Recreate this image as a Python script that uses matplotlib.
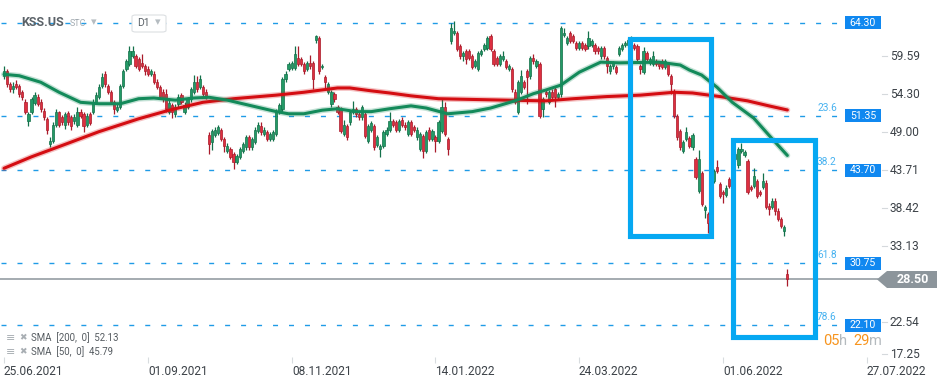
import matplotlib
matplotlib.use('Agg')
import matplotlib.pyplot as plt
import numpy as np
from matplotlib.patches import Rectangle, Polygon, FancyBboxPatch

plt.rcParams['font.family'] = ['Roboto', 'DejaVu Sans']
plt.rcParams['lines.scale_dashes'] = False

# ---------------- data ----------------
opens = [56.8, 57.5, 55.7, 55.0, 55.8, 55.5, 54.6, 53.3, 50.6, 51.9,
         53.1, 54.0, 53.3, 52.0, 50.9, 47.4, 47.8, 50.1, 51.8, 51.1,
         50.1, 51.7, 51.1, 50.6, 50.1, 51.9, 51.5, 50.1, 51.5, 51.9,
         53.2, 54.0, 55.5, 57.1, 55.5, 54.6, 53.2, 52.1, 52.5, 55.5,
         57.8, 58.6, 59.7, 59.7, 59.2, 58.7, 58.3, 57.9, 57.2, 57.2,
         56.1, 55.3, 54.7, 54.3, 51.9, 52.8, 51.5, 52.9, 54.2, 51.9,
         52.6, 53.6, 54.7, 56.0, 55.3, 55.3, 54.7, 48.6, 47.7, 48.6,
         48.9, 49.3, 48.1, 46.4, 46.7, 46.0, 44.9, 45.6, 46.4, 46.9,
         48.3, 46.9, 47.7, 49.2, 49.9, 48.8, 49.0, 48.1, 48.1, 48.8,
         51.9, 52.2, 56.4, 57.8, 58.0, 58.0, 59.4, 59.2, 58.5, 57.8,
         58.7, 58.7, 61.9, 62.1, 58.1, 56.7, 54.7, 52.9, 54.3, 52.5,
         52.2, 48.8, 49.9, 50.4, 51.8, 52.2, 51.5, 51.1, 51.5, 47.8,
         49.4, 49.9, 47.2, 46.7, 47.1, 48.8, 49.4, 50.6, 50.4, 49.4,
         50.8, 50.1, 48.8, 50.4, 49.7, 48.3, 46.7, 48.5, 46.4, 49.4,
         48.1, 48.3, 47.8, 49.2, 52.6, 48.1, 61.7, 62.9, 62.9, 61.0,
         59.6, 60.3, 60.3, 59.6, 58.3, 57.8, 59.9, 60.6, 60.8, 62.4,
         60.4, 59.4, 58.5, 59.2, 58.9, 57.8, 57.8, 54.7, 51.9, 54.6,
         56.0, 57.5, 56.8, 59.4, 58.3, 58.5, 52.2, 54.7, 53.2, 54.7,
         55.0, 53.9, 54.3, 62.6, 61.5, 62.9, 62.4, 61.5, 60.8, 61.5,
         61.2, 61.0, 61.2, 61.2, 60.8, 59.6, 60.8, 59.4, 57.5, 58.2,
         58.1, 59.9, 60.6, 61.2, 61.2, 61.7, 61.2, 61.0, 58.2, 57.4,
         60.1, 58.7, 58.6, 58.9, 58.7, 58.9, 58.1, 58.5, 56.8, 54.7,
         51.3, 49.2, 46.4, 48.1, 48.2, 46.9, 45.3, 40.8, 43.3, 38.2,
         37.6, 41.0, 42.2, 44.2, 41.8, 40.7, 40.3, 42.5, 43.5, 45.3,
         44.4, 46.4, 45.9, 45.0, 41.4, 41.5, 42.2, 40.7, 41.4, 42.0,
         38.8, 38.6, 39.5, 38.1, 36.9, 35.3, 29.3]
closes = [57.5, 55.7, 55.0, 55.5, 55.3, 54.4, 53.9, 51.8, 51.5, 53.6,
          54.2, 53.0, 52.2, 51.1, 49.3, 47.8, 50.1, 51.8, 50.1, 50.4,
          51.5, 50.4, 49.9, 51.1, 51.8, 51.3, 49.9, 51.3, 50.3, 53.3,
          54.2, 55.3, 56.7, 55.7, 54.6, 53.3, 52.2, 52.6, 55.5, 57.5,
          58.9, 60.3, 60.4, 58.3, 57.8, 58.3, 57.6, 57.2, 57.6, 56.1,
          55.3, 53.9, 53.6, 52.2, 53.1, 51.8, 52.5, 54.0, 53.2, 52.8,
          53.6, 55.0, 56.0, 55.0, 56.4, 54.3, 54.0, 47.4, 49.2, 49.4,
          49.7, 48.1, 47.1, 47.1, 45.6, 44.9, 45.7, 46.7, 47.4, 48.3,
          46.9, 48.1, 49.4, 50.0, 49.0, 49.4, 48.1, 48.8, 49.0, 51.9,
          52.8, 56.4, 57.1, 58.5, 58.7, 59.9, 58.5, 58.5, 57.5, 58.7,
          58.2, 56.4, 62.4, 57.5, 58.3, 56.1, 55.7, 54.6, 53.6, 51.8,
          49.2, 50.1, 48.3, 51.8, 52.2, 51.5, 51.1, 52.5, 48.5, 49.9,
          50.3, 46.9, 48.3, 47.1, 49.0, 49.4, 50.6, 50.1, 49.4, 50.6,
          50.0, 49.7, 50.4, 48.8, 49.3, 49.4, 48.8, 46.4, 49.0, 48.1,
          49.2, 47.8, 50.4, 52.5, 48.8, 46.7, 63.6, 63.2, 60.6, 59.6,
          60.1, 59.2, 59.4, 58.1, 58.9, 60.1, 60.3, 61.2, 62.2, 60.6,
          58.5, 58.5, 59.6, 59.7, 58.1, 58.2, 55.0, 53.2, 56.0, 56.8,
          55.4, 56.7, 59.4, 58.9, 58.9, 51.3, 53.6, 54.3, 54.6, 53.9,
          53.9, 54.3, 63.6, 62.9, 62.2, 61.7, 61.7, 60.8, 61.5, 60.8,
          60.6, 62.2, 61.7, 60.3, 60.3, 60.8, 59.6, 58.2, 58.2, 58.7,
          57.4, 60.8, 61.2, 61.5, 61.9, 62.2, 60.8, 59.2, 57.8, 60.3,
          59.2, 59.2, 59.6, 58.6, 58.2, 58.1, 58.9, 57.1, 55.7, 51.3,
          48.3, 46.9, 47.6, 49.0, 47.1, 48.6, 42.8, 45.3, 39.0, 38.6,
          36.3, 42.5, 43.6, 43.6, 40.2, 40.4, 41.3, 41.5, 45.0, 46.0,
          46.7, 46.7, 46.2, 40.7, 41.1, 42.9, 40.2, 40.4, 42.2, 38.6,
          38.3, 39.5, 38.1, 36.9, 36.0, 35.8, 28.5]
highs = [58.2, 57.8, 56.0, 56.0, 56.3, 55.8, 54.9, 53.6, 51.9, 54.0,
         54.6, 54.3, 53.7, 52.4, 51.2, 48.3, 50.4, 52.3, 52.0, 51.4,
         51.9, 52.0, 51.4, 51.5, 52.5, 52.2, 51.8, 51.7, 51.8, 53.7,
         54.6, 55.8, 57.3, 57.6, 55.8, 54.9, 53.5, 53.0, 55.8, 57.9,
         59.3, 61.0, 61.0, 60.0, 59.5, 60.0, 58.6, 58.2, 57.9, 57.5,
         56.4, 55.6, 55.0, 55.0, 53.5, 53.1, 52.9, 54.4, 54.5, 53.2,
         54.0, 55.4, 57.0, 56.8, 57.0, 55.6, 55.0, 49.1, 49.5, 49.8,
         50.0, 49.6, 48.4, 47.5, 47.0, 46.3, 46.0, 47.0, 47.7, 48.6,
         48.6, 48.4, 49.7, 50.4, 50.5, 49.7, 49.3, 49.1, 49.3, 52.2,
         53.1, 56.7, 57.5, 58.8, 59.0, 61.0, 61.0, 59.5, 58.8, 59.0,
         59.8, 59.0, 62.6, 62.4, 58.6, 57.0, 56.0, 54.9, 54.6, 52.8,
         52.5, 50.8, 50.2, 52.1, 53.4, 52.5, 51.8, 52.8, 51.8, 50.2,
         50.6, 50.2, 48.6, 47.4, 49.3, 49.7, 51.8, 50.9, 50.7, 50.9,
         51.1, 50.4, 50.7, 50.7, 50.0, 49.7, 49.1, 48.8, 49.3, 49.7,
         49.5, 48.6, 50.7, 53.6, 53.3, 48.4, 64.3, 64.6, 63.2, 61.3,
         60.4, 60.6, 60.6, 59.9, 59.2, 60.4, 60.6, 61.5, 62.5, 62.7,
         60.7, 59.7, 59.9, 60.4, 59.2, 58.5, 58.1, 55.0, 56.3, 57.7,
         56.3, 57.8, 59.7, 60.0, 59.2, 58.8, 53.9, 55.0, 54.9, 55.0,
         55.3, 54.6, 63.9, 63.6, 62.5, 63.2, 62.7, 61.8, 61.8, 61.8,
         61.5, 63.1, 62.0, 61.5, 61.1, 61.1, 61.1, 59.7, 58.5, 59.0,
         58.4, 61.1, 61.5, 61.8, 62.2, 62.5, 61.5, 61.3, 58.5, 60.9,
         60.4, 59.5, 60.3, 59.2, 59.0, 59.2, 59.2, 58.8, 57.1, 55.0,
         51.6, 49.5, 47.9, 49.7, 48.5, 48.9, 45.6, 46.5, 43.6, 38.9,
         37.9, 42.8, 43.9, 45.2, 42.1, 41.0, 41.6, 42.8, 45.3, 46.3,
         47.0, 47.5, 46.5, 45.3, 41.7, 44.0, 42.5, 41.0, 43.3, 42.3,
         39.1, 39.8, 39.8, 38.4, 37.2, 36.1, 29.9]
lows = [56.5, 55.4, 54.6, 54.5, 55.0, 54.0, 53.5, 51.5, 49.9, 51.6,
        52.8, 52.7, 51.9, 50.8, 48.8, 46.9, 47.5, 49.8, 49.8, 50.0,
        49.5, 50.1, 49.4, 50.2, 49.8, 51.0, 49.0, 49.8, 50.0, 51.5,
        52.9, 53.7, 55.2, 55.4, 54.3, 53.0, 51.5, 51.8, 52.2, 55.2,
        57.5, 58.3, 59.4, 58.0, 57.5, 58.0, 57.0, 56.9, 56.9, 55.8,
        55.0, 53.6, 53.3, 51.9, 51.6, 51.0, 51.2, 52.6, 52.9, 51.6,
        52.3, 53.3, 54.4, 54.7, 55.0, 54.0, 53.7, 46.0, 46.6, 48.3,
        48.6, 47.8, 46.2, 46.1, 45.3, 43.9, 44.6, 45.3, 46.1, 46.6,
        46.6, 46.6, 47.4, 48.9, 48.7, 48.5, 47.8, 47.8, 47.8, 48.5,
        51.6, 51.9, 56.1, 57.5, 57.7, 57.7, 58.2, 58.2, 57.2, 57.5,
        57.9, 55.0, 61.5, 57.2, 57.8, 55.0, 54.4, 52.6, 53.3, 51.5,
        48.9, 48.5, 48.0, 50.1, 51.5, 51.2, 50.8, 50.8, 48.2, 47.5,
        49.1, 46.6, 46.9, 45.6, 46.8, 48.5, 49.1, 49.8, 49.1, 49.1,
        49.7, 49.4, 48.5, 48.5, 49.0, 48.0, 46.4, 45.5, 46.1, 47.8,
        47.8, 46.2, 47.5, 48.9, 48.5, 45.8, 61.3, 62.6, 60.3, 59.3,
        59.0, 58.6, 59.1, 57.8, 58.0, 57.5, 59.6, 60.3, 60.5, 60.3,
        58.2, 58.2, 58.2, 58.9, 57.8, 57.5, 54.7, 52.9, 51.6, 54.3,
        55.1, 52.9, 56.5, 58.6, 58.0, 51.0, 51.2, 54.0, 52.9, 53.6,
        52.5, 53.6, 54.0, 62.3, 61.2, 61.4, 61.4, 60.5, 60.5, 60.5,
        60.3, 60.7, 60.9, 60.0, 60.0, 59.3, 59.3, 57.3, 57.2, 57.9,
        57.1, 59.6, 60.3, 60.9, 60.9, 61.4, 60.5, 58.9, 57.1, 57.1,
        58.9, 58.4, 58.3, 58.3, 57.9, 57.8, 57.8, 56.8, 54.3, 51.0,
        47.9, 46.6, 46.1, 47.8, 46.8, 46.6, 42.5, 40.5, 38.7, 37.0,
        35.0, 40.7, 41.9, 43.3, 39.9, 39.1, 40.0, 41.2, 43.2, 45.0,
        44.1, 46.1, 45.6, 40.4, 40.8, 41.2, 39.9, 40.1, 41.1, 38.3,
        37.5, 38.3, 37.5, 36.6, 35.7, 34.6, 27.6]

sma200_idx = [0, 9, 21, 31, 44, 54, 65, 75, 89, 98, 109, 113, 120, 126, 133,
              142, 164, 177, 186, 197, 208, 219, 225, 234, 243, 250, 256]
sma200_val = [44.0, 45.6, 47.5, 49.1, 50.9, 52.1, 53.2, 53.7, 54.2, 54.6, 55.2,
              55.2, 54.8, 54.5, 54.1, 53.7, 53.5, 53.4, 53.7, 54.0, 54.2, 54.6,
              54.5, 54.0, 53.4, 52.7, 52.13]
sma50_idx = [0, 5, 12, 18, 25, 31, 38, 44, 49, 56, 62, 67, 73, 80, 89, 93, 98,
             104, 109, 115, 120, 126, 133, 138, 145, 153, 159, 167, 173, 177,
             182, 188, 195, 201, 214, 221, 224, 228, 233, 238, 245, 250, 256]
sma50_val = [57.1, 56.9, 56.0, 54.6, 53.2, 53.0, 53.0, 53.7, 53.8, 53.5, 53.8,
             53.9, 53.5, 52.8, 51.9, 51.6, 51.6, 52.1, 52.3, 51.9, 51.9, 52.3,
             52.7, 52.4, 51.6, 51.9, 52.4, 53.4, 54.4, 54.9, 55.6, 57.4, 58.8,
             58.7, 58.8, 58.4, 57.7, 57.0, 55.3, 53.2, 51.0, 48.6, 45.79]

levels = [64.30, 51.35, 43.70, 30.75, 22.10]
fib_labels = ['', '23.6', '38.2', '61.8', '78.6']
last_price = 28.50
yticks_vals = [59.59, 54.30, 49.00, 43.71, 38.42, 33.13, 22.54, 17.25]
date_labels = ['25.06.2021', '01.09.2021', '08.11.2021', '14.01.2022',
               '24.03.2022', '01.06.2022', '27.07.2022']
date_pos = [0, 47.1, 94.1, 140.8, 187.9, 235.0, 282.0]
sma_legend = ['SMA  [200,  0]  52.13', 'SMA  [50,  0]  45.79']

# ---------------- layout helpers (pixel -> data) ----------------
W, H = 949, 385
PY0, PK = 67.466, 0.13945
def py2p(y):
    return PY0 - PK * y
def px2i(x):
    return (x - 4) / 3.06

fig = plt.figure(figsize=(W / 100, H / 100), dpi=100)
fig.patch.set_facecolor('white')
ax = fig.add_axes([0, (H - 357) / H, 1, 357 / H])
ax.set_xlim(px2i(0), px2i(W))
ax.set_ylim(py2p(357), py2p(0))
for s in ax.spines.values():
    s.set_visible(False)
ax.set_yticks([])

# date ticks
ax.set_xticks(date_pos)
ax.set_xticklabels(date_labels, ha='left', fontsize=8.6, color='#3c4248')
ax.tick_params(axis='x', length=4, width=0.8, color='#d8dcdf', pad=1.5)

# horizontal levels
dash = (0, (3.6, 7.9))
for lv, fl in zip(levels, fib_labels):
    ax.plot([px2i(1), px2i(843)], [lv, lv], color='#1f9be6', lw=1.0,
            ls=dash, zorder=1)
    if fl:
        ax.text(px2i(817), lv + 8 * PK, fl, color='#47b2f0', fontsize=7.3,
                va='center', ha='left', zorder=6)
    ax.add_patch(Rectangle((px2i(845), lv - 6.6 * PK), 36 / 3.06, 13.2 * PK,
                           facecolor='#1088f0', edgecolor='none', zorder=7,
                           clip_on=False))
    ax.text(px2i(863), lv, f'{lv:.2f}', color='white', fontsize=7.6,
            ha='center', va='center', zorder=8)

# last price line and marker
ax.plot([px2i(0), px2i(878)], [last_price, last_price], color='#8c959b',
        lw=1.1, zorder=1)
pts = [(877, 279.4), (887, 271), (937, 271), (937, 288), (887, 288)]
ax.add_patch(Polygon([(px2i(x), py2p(y)) for x, y in pts], closed=True,
                     facecolor='#8c959b', edgecolor='none', zorder=7))
ax.text(px2i(913), last_price, f'{last_price:.2f}', color='white',
        fontsize=9, fontweight='bold', ha='center', va='center', zorder=8)

# y tick labels on the right
ybot = py2p(354)
for v in yticks_vals:
    yv = max(v, ybot)
    ax.plot([px2i(882), px2i(887)], [yv, yv], color='#d5d9dc', lw=0.8)
    ax.text(px2i(890), yv, f'{v:.2f}', color='#3c4248', fontsize=8.6,
            ha='left', va='center')

# candles
o = np.array(opens); c = np.array(closes)
h = np.array(highs); l = np.array(lows)
idx = np.arange(len(o))
up = c >= o
face = np.where(up, '#239a66', '#de2f40')
edge = np.where(up, '#13704a', '#a91b2b')
ax.vlines(idx, l, h, colors=edge, lw=0.9, zorder=2)
ax.bar(idx, np.maximum(np.abs(c - o), 0.12), bottom=np.minimum(o, c),
       width=0.72, color=face, edgecolor=edge, linewidth=0.5, zorder=3)

# moving averages
ax.plot(sma200_idx, sma200_val, color='#d40d12', lw=4.2, alpha=0.25,
        zorder=4, solid_capstyle='round')
ax.plot(sma200_idx, sma200_val, color='#d40d12', lw=2.2, zorder=4,
        solid_capstyle='round')
ax.plot(sma50_idx, sma50_val, color='#138a5a', lw=4.2, alpha=0.25,
        zorder=4, solid_capstyle='round')
ax.plot(sma50_idx, sma50_val, color='#138a5a', lw=2.2, zorder=4,
        solid_capstyle='round')

# highlight boxes
for x0, x1, y0, y1 in [(629.5, 710.5, 39.5, 236.5), (732.5, 814.5, 139.5, 336.5)]:
    ax.add_patch(Rectangle((px2i(x0), py2p(y1)), px2i(x1) - px2i(x0),
                           py2p(y0) - py2p(y1), fill=False,
                           edgecolor='#06a8f2', lw=3.7, zorder=9,
                           joinstyle='miter'))

# header
def ft(x, y, s, **kw):
    fig.text(x / W, 1 - y / H, s, **kw)

ft(21, 23, 'KSS.US', fontsize=9, fontweight='bold', color='#5b6268',
   va='center', ha='left', zorder=10)
ft(70, 24, 'STC', fontsize=6.5, color='#a3abb1', va='center', ha='left')
ft(91, 22, '▾', fontsize=8, color='#b5bcc1', va='center', ha='left',
   family=['DejaVu Sans'])
fig.patches.append(FancyBboxPatch((132 / W, 1 - 32 / H), 34 / W, 17 / H,
                                  boxstyle='round,pad=0,rounding_size=0.004',
                                  transform=fig.transFigure,
                                  facecolor='white', edgecolor='#dcdfe2',
                                  lw=0.8, zorder=5))
ft(137, 23.5, 'D1', fontsize=7.5, color='#5b6268', va='center', ha='left',
   zorder=11)
ft(155, 22.5, '▾', fontsize=8, color='#b5bcc1', va='center', ha='left',
   family=['DejaVu Sans'], zorder=11)

# SMA legend
for k, (lab, yy) in enumerate(zip(sma_legend, [338, 352])):
    ft(6, yy, '≡', fontsize=8, color='#a8aeb3', va='center', ha='left',
       family=['DejaVu Sans'])
    ft(19, yy, '✖', fontsize=6.5, color='#a8aeb3', va='center', ha='left',
       family=['DejaVu Sans'])
    ft(31, yy, lab, fontsize=6.9, color='#555b60', va='center', ha='left')

# countdown timer
ft(823, 341, '05', fontsize=10.5, color='#f7941d', va='center', ha='left')
ft(839.5, 341, 'h', fontsize=10.5, color='#b4babe', va='center', ha='left')
ft(853, 341, '29', fontsize=10.5, color='#f7941d', va='center', ha='left')
ft(869.5, 341, 'm', fontsize=10.5, color='#b4babe', va='center', ha='left')

fig.savefig('out.png', dpi=100, facecolor='white')
